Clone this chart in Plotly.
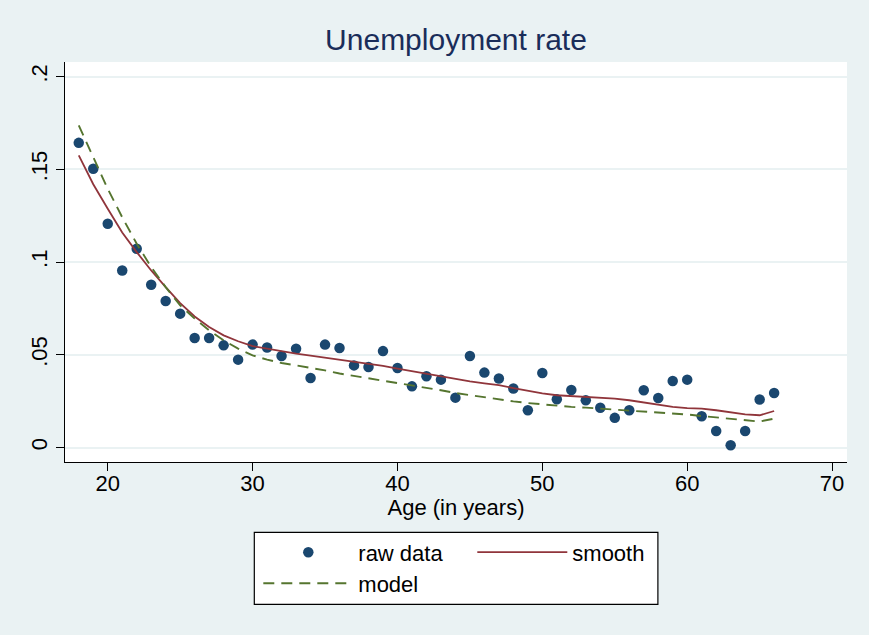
import plotly.graph_objects as go

age = list(range(18, 67))
raw_rate = [0.1643, 0.1503, 0.1207, 0.0955, 0.1072, 0.0878, 0.0790, 0.0722, 0.0591, 0.0591,
            0.0551, 0.0474, 0.0555, 0.0539, 0.0494, 0.0533, 0.0375, 0.0555, 0.0537, 0.0443,
            0.0434, 0.0520, 0.0429, 0.0330, 0.0384, 0.0366, 0.0269, 0.0494, 0.0404, 0.0372,
            0.0318, 0.0201, 0.0402, 0.0260, 0.0310, 0.0255, 0.0215, 0.0160, 0.0201, 0.0309,
            0.0267, 0.0359, 0.0366, 0.0169, 0.0089, 0.0012, 0.0089, 0.0259, 0.0294]
smooth_rate = [0.1575, 0.1420, 0.1288, 0.1160, 0.1054, 0.0955, 0.0865, 0.0779, 0.0707, 0.0650,
               0.0605, 0.0573, 0.0547, 0.0533, 0.0520, 0.0506, 0.0496, 0.0485, 0.0477, 0.0465,
               0.0452, 0.0440, 0.0425, 0.0411, 0.0399, 0.0384, 0.0370, 0.0357, 0.0346, 0.0336,
               0.0321, 0.0305, 0.0292, 0.0282, 0.0277, 0.0276, 0.0269, 0.0264, 0.0255, 0.0242,
               0.0230, 0.0219, 0.0213, 0.0210, 0.0201, 0.0190, 0.0179, 0.0174, 0.0197]
model_rate = [0.1737, 0.1566, 0.1395, 0.1242, 0.1099, 0.0973, 0.0865, 0.0767, 0.0695, 0.0632,
              0.0578, 0.0533, 0.0497, 0.0474, 0.0456, 0.0443, 0.0431, 0.0416, 0.0399, 0.0386,
              0.0377, 0.0363, 0.0350, 0.0336, 0.0323, 0.0309, 0.0294, 0.0282, 0.0269, 0.0259,
              0.0249, 0.0240, 0.0232, 0.0224, 0.0219, 0.0215, 0.0210, 0.0205, 0.0199, 0.0194,
              0.0189, 0.0183, 0.0178, 0.0170, 0.0163, 0.0156, 0.0149, 0.0140, 0.0156]

x_ticks = [20, 30, 40, 50, 60, 70]
y_ticks = [0, 0.05, 0.1, 0.15, 0.2]
y_tick_text = ["0", ".05", ".1", ".15", ".2"]

BG = "#eaf2f3"
NAVY = "#1a476f"
MAROON = "#90353b"
GREEN = "#55752f"
FONT = "Liberation Sans, Arial, sans-serif"
FS = 22

fig = go.Figure()
fig.add_trace(go.Scatter(x=age, y=raw_rate, mode="markers", name="raw data",
                         marker=dict(color=NAVY, size=10.5, line=dict(width=0)),
                         legend="legend"))
fig.add_trace(go.Scatter(x=age, y=smooth_rate, mode="lines", name="smooth",
                         line=dict(color=MAROON, width=1.8), legend="legend"))
fig.add_trace(go.Scatter(x=age, y=model_rate, mode="lines", name="model",
                         line=dict(color=GREEN, width=1.9, dash="11px,7px"),
                         legend="legend2"))

L, R, T, B = 64.5, 21.7, 62, 173.3
W, H = 869, 635
pw = W - L - R
ph = H - T - B

def px_x(p):
    return (p - L) / pw

def px_y(p):
    return (H - B - p) / ph

legend_common = dict(orientation="h", xanchor="left", yanchor="middle",
                     bgcolor="rgba(0,0,0,0)", borderwidth=0, itemwidth=90,
                     entrywidth=109, entrywidthmode="pixels",
                     font=dict(family=FONT, size=FS, color="black"))

fig.update_layout(
    width=W, height=H,
    margin=dict(l=L, r=R, t=T, b=B),
    paper_bgcolor=BG, plot_bgcolor="white",
    font=dict(family=FONT, size=FS, color="black"),
    title=dict(text="Unemployment rate", x=456 / W, xanchor="center", xref="container",
               y=1 - 39 / H, yanchor="middle",
               font=dict(family=FONT, size=30, color="#1a2d5a")),
    xaxis=dict(range=[17.05, 71.03], tickvals=x_ticks, showgrid=False, zeroline=False,
               showline=True, linecolor="black", linewidth=1.2,
               ticks="outside", ticklen=8, tickcolor="black", tickwidth=1.2,
               ticklabelstandoff=-7,
               tickfont=dict(size=FS, color="black"),
               title=dict(text="Age (in years)", standoff=0,
                          font=dict(size=FS, color="black"))),
    yaxis=dict(range=[-0.0078, 0.2079], tickvals=y_ticks, ticktext=y_tick_text,
               tickangle=-90, showgrid=True, gridcolor=BG, gridwidth=1.5,
               zeroline=False, showline=True, linecolor="black", linewidth=1.2,
               ticks="outside", ticklen=8, tickcolor="black", tickwidth=1.2,
               tickfont=dict(size=FS, color="black")),
    legend=dict(x=px_x(258), y=px_y(552), **legend_common),
    legend2=dict(x=px_x(258), y=px_y(583), **legend_common),
    shapes=[dict(type="rect", xref="paper", yref="paper",
                 x0=px_x(254), x1=px_x(658), y0=px_y(604), y1=px_y(532),
                 line=dict(color="black", width=1.2), fillcolor="white", layer="below")],
)

fig.write_html("out.html", config={"displayModeBar": False},
               post_script="document.body.style.margin='0';document.body.style.overflow='hidden';")
